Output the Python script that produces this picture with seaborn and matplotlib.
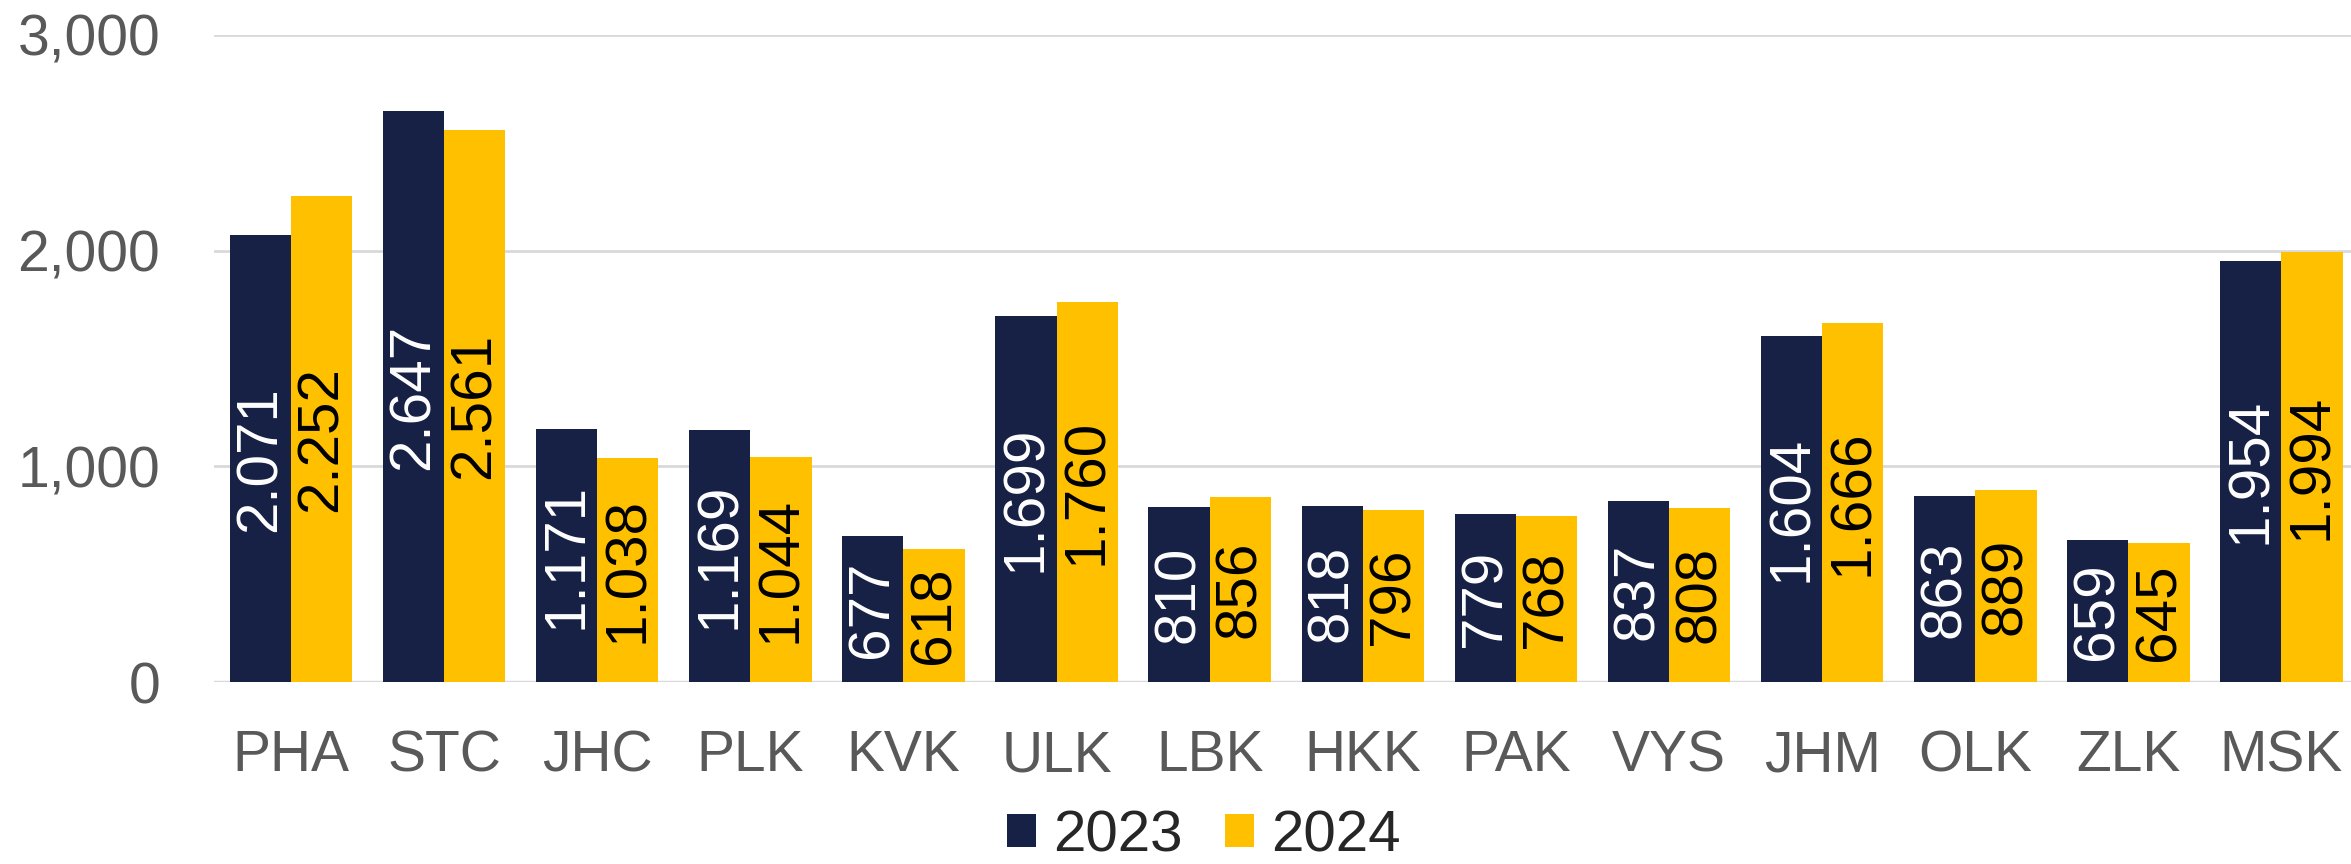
import pandas as pd
import matplotlib
matplotlib.use('Agg')
import matplotlib.pyplot as plt
import seaborn as sns

sns.set_style('white')
plt.rcParams['font.family'] = ['Liberation Sans', 'DejaVu Sans']

regions = ['PHA', 'STC', 'JHC', 'PLK', 'KVK', 'ULK', 'LBK',
           'HKK', 'PAK', 'VYS', 'JHM', 'OLK', 'ZLK', 'MSK']
values_2023 = [2071, 2647, 1171, 1169, 677, 1699, 810,
               818, 779, 837, 1604, 863, 659, 1954]
values_2024 = [2252, 2561, 1038, 1044, 618, 1760, 856,
               796, 768, 808, 1666, 889, 645, 1994]
years = ['2023', '2024']
y_ticks = [0, 1000, 2000, 3000]

navy = '#172145'
gold = '#FFC000'

df = pd.DataFrame({
    'region': regions * 2,
    'value': values_2023 + values_2024,
    'year': [years[0]] * len(regions) + [years[1]] * len(regions),
})

fig = plt.figure(figsize=(23.51, 8.64), dpi=100)
ax = fig.add_axes([0.0912, 0.2106, 0.9118, 0.749])

sns.barplot(data=df, x='region', y='value', hue='year',
            palette=[navy, gold], saturation=1, width=0.8,
            linewidth=0, errorbar=None, ax=ax)

# value labels inside the bars, dot as thousands separator
for cont, vals, col in zip(ax.containers, [values_2023, values_2024],
                           ['white', 'black']):
    labs = [f'{v:,}'.replace(',', '.') for v in vals]
    ax.bar_label(cont, labels=labs, label_type='center', rotation=90,
                 color=col, fontsize=42)

ax.set_ylim(0, 3000)
ax.set_xlim(-0.5, len(regions) - 0.5)
ax.set_yticks(y_ticks)
ax.set_yticklabels([f'{t:,}' for t in y_ticks])
ax.yaxis.grid(True, color='#D9D9D9', linewidth=2)
ax.set_axisbelow(True)
for s in ax.spines.values():
    s.set_visible(False)
ax.axhline(0, color='#D9D9D9', linewidth=2.5, zorder=0.5)

ax.tick_params(axis='y', length=0, pad=39, labelsize=41, labelcolor='#595959')
ax.tick_params(axis='x', length=0, pad=34, labelsize=41, labelcolor='#595959')
ax.set_xlabel('')
ax.set_ylabel('')

handles, labels = ax.get_legend_handles_labels()
ax.legend(handles, labels, loc='center', bbox_to_anchor=(0.512, 0.032),
          bbox_transform=fig.transFigure, ncol=2, frameon=False,
          fontsize=42, handlelength=0.5, handleheight=0.5,
          handletextpad=0.29, columnspacing=0.72, borderpad=0)

fig.savefig('out.png', dpi=100)
